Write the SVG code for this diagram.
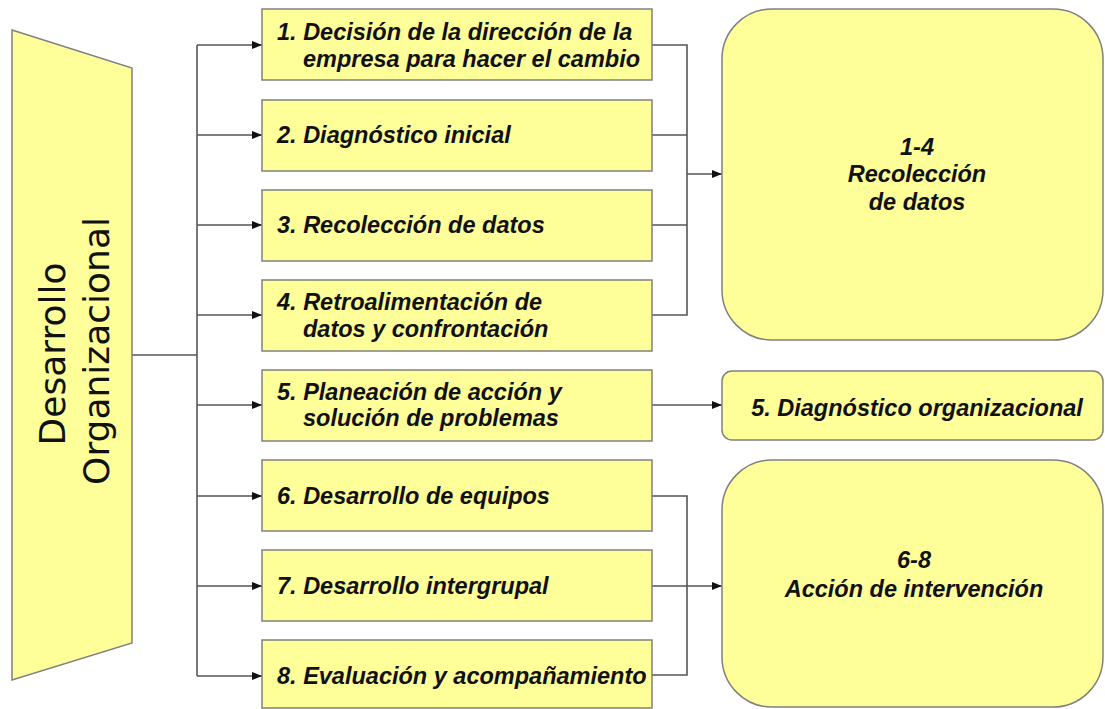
<svg xmlns="http://www.w3.org/2000/svg" width="1105" height="709" viewBox="0 0 1105 709">
<style>
.box{fill:#FFFF99;stroke:#808080;stroke-width:1.5}
.lbl{font-family:"Liberation Sans",Arial,sans-serif;font-weight:bold;font-style:italic;font-size:23.5px;fill:#111}
.ctr{text-anchor:middle}
.main{font-family:"DejaVu Sans","Liberation Sans",sans-serif;font-size:36px;fill:#111;text-anchor:middle}
.con{fill:none;stroke:#555;stroke-width:1.6}
</style>
<defs>
<marker id="arr" markerUnits="userSpaceOnUse" markerWidth="10" markerHeight="10" viewBox="0 0 10 10" refX="10" refY="5" orient="auto">
<path d="M0,1 L10,5 L0,9 Z" fill="#111"/>
</marker>
</defs>
<rect width="1105" height="709" fill="#fff"/>

<g id="connectors">
<path class="con" d="M132,355 H197"/>
<path class="con" d="M197,45 V676"/>
<path class="con" d="M197,45 H262" marker-end="url(#arr)"/>
<path class="con" d="M197,135 H262" marker-end="url(#arr)"/>
<path class="con" d="M197,225 H262" marker-end="url(#arr)"/>
<path class="con" d="M197,315 H262" marker-end="url(#arr)"/>
<path class="con" d="M197,405 H262" marker-end="url(#arr)"/>
<path class="con" d="M197,496 H262" marker-end="url(#arr)"/>
<path class="con" d="M197,586 H262" marker-end="url(#arr)"/>
<path class="con" d="M197,676 H262" marker-end="url(#arr)"/>
<path class="con" d="M652,45 H687 V315 H652"/>
<path class="con" d="M652,135 H687"/>
<path class="con" d="M652,225 H687"/>
<path class="con" d="M687,174 H722" marker-end="url(#arr)"/>
<path class="con" d="M652,405 H722" marker-end="url(#arr)"/>
<path class="con" d="M652,496 H687 V675 H652"/>
<path class="con" d="M652,586 H722" marker-end="url(#arr)"/>
</g>

<g id="desarrollo">
<polygon class="box" points="12,30 132,68 132,643 12,680"/>
<text class="main" transform="translate(65,354) rotate(-90)">Desarrollo</text>
<text class="main" transform="translate(109,351) rotate(-90)">Organizacional</text>
</g>

<g id="n1">
<rect class="box" x="262" y="9" width="390" height="71"/>
<text class="lbl" x="277" y="40">1. Decisión de la dirección de la</text>
<text class="lbl" x="303" y="67">empresa para hacer el cambio</text>
</g>
<g id="n2">
<rect class="box" x="262" y="100" width="390" height="71"/>
<text class="lbl" x="277" y="143">2. Diagnóstico inicial</text>
</g>
<g id="n3">
<rect class="box" x="262" y="190" width="390" height="71"/>
<text class="lbl" x="277" y="233">3. Recolección de datos</text>
</g>
<g id="n4">
<rect class="box" x="262" y="280" width="390" height="71"/>
<text class="lbl" x="277" y="310">4. Retroalimentación de</text>
<text class="lbl" x="303" y="337">datos y confrontación</text>
</g>
<g id="n5">
<rect class="box" x="262" y="370" width="390" height="71"/>
<text class="lbl" x="277" y="400">5. Planeación de acción y</text>
<text class="lbl" x="303" y="426">solución de problemas</text>
</g>
<g id="n6">
<rect class="box" x="262" y="460" width="390" height="71"/>
<text class="lbl" x="277" y="504">6. Desarrollo de equipos</text>
</g>
<g id="n7">
<rect class="box" x="262" y="550" width="390" height="71"/>
<text class="lbl" x="277" y="594">7. Desarrollo intergrupal</text>
</g>
<g id="n8">
<rect class="box" x="262" y="640" width="390" height="68"/>
<text class="lbl" x="277" y="684">8. Evaluación y acompañamiento</text>
</g>

<g id="r1">
<rect class="box" x="722" y="9" width="381" height="331" rx="50" ry="50"/>
<text class="lbl ctr" x="917" y="155">1-4</text>
<text class="lbl ctr" x="917" y="182">Recolección</text>
<text class="lbl ctr" x="917" y="210">de datos</text>
</g>
<g id="r2">
<rect class="box" x="722" y="371" width="381" height="69" rx="10" ry="10"/>
<text class="lbl ctr" x="917" y="416">5. Diagnóstico organizacional</text>
</g>
<g id="r3">
<rect class="box" x="722" y="460" width="381" height="247" rx="50" ry="50"/>
<text class="lbl ctr" x="914" y="568">6-8</text>
<text class="lbl ctr" x="914" y="597">Acción de intervención</text>
</g>
</svg>
